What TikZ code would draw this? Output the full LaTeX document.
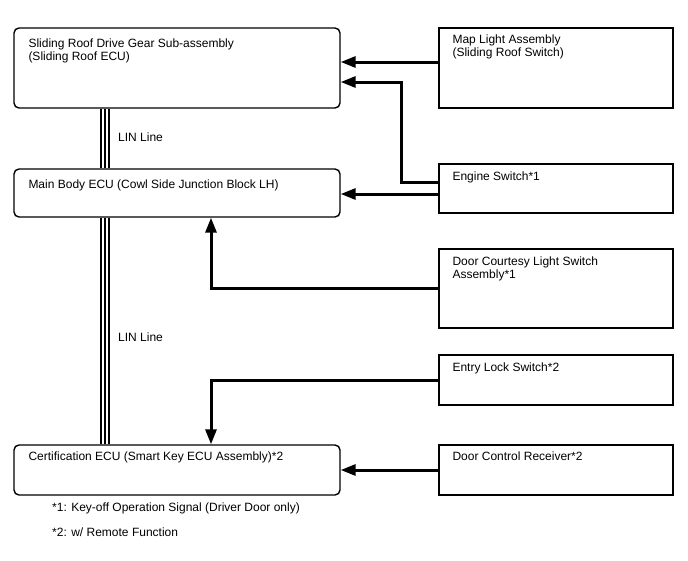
\documentclass[tikz,border=0pt]{standalone}
\usepackage{fontspec}
\setmainfont{Liberation Sans}
\usetikzlibrary{arrows.meta,positioning,calc}
\tikzset{
  sigarr/.style={-{Triangle[length=15pt, width=11pt]}, line width=3pt},
  linbus/.style={line width=1.3pt},
  ecubox/.style={draw, line width=1.4pt, rounded corners=5pt, minimum width=326pt, inner sep=0pt},
  partbox/.style={draw, line width=1.3pt, minimum width=234pt, inner sep=0pt},
}

\begin{document}
\begin{tikzpicture}[
  x=1pt, y=-1pt,
  font=\fontsize{12}{13.5}\selectfont,
  boxtext/.style={inner sep=0pt, align=left},
]
  \useasboundingbox[fill=white] (0,0) rectangle (688,560);

  % ECUs on the left
  \node[ecubox, minimum height=80pt] (roof) at (177,68)  {};
  \node[ecubox, minimum height=48pt] (body) at (177,193) {};
  \node[ecubox, minimum height=50pt] (cert) at (177,470) {};

  \node[boxtext, anchor=north west] (rooftxt) at ([shift={(15pt,-11pt)}]roof.north west) {Sliding Roof Drive Gear Sub-assembly\\(Sliding Roof ECU)};
  \node[boxtext, anchor=north west] (bodytxt) at ([shift={(15pt,-11pt)}]body.north west) {Main Body ECU (Cowl Side Junction Block LH)};
  \node[boxtext, anchor=north west] (certtxt) at ([shift={(15pt,-7pt)}]cert.north west) {Certification ECU (Smart Key ECU Assembly)*2};

  % switches on the right
  \node[partbox, minimum height=80pt] (map)      at (556,68)    {};
  \node[partbox, minimum height=49pt] (engine)   at (556,188.5) {};
  \node[partbox, minimum height=79pt] (courtesy) at (556,288.5) {};
  \node[partbox, minimum height=50pt] (entry)    at (556,380)   {};
  \node[partbox, minimum height=50pt] (receiver) at (556,470)   {};

  \node[boxtext, anchor=north west] (maptxt)      at ([shift={(14pt,-7pt)}]map.north west)      {Map Light Assembly\\(Sliding Roof Switch)};
  \node[boxtext, anchor=north west] (enginetxt)   at ([shift={(14pt,-8pt)}]engine.north west)   {Engine Switch*1};
  \node[boxtext, anchor=north west] (courtesytxt) at ([shift={(14pt,-8pt)}]courtesy.north west) {Door Courtesy Light Switch\\Assembly*1};
  \node[boxtext, anchor=north west] (entrytxt)    at ([shift={(14pt,-8pt)}]entry.north west)    {Entry Lock Switch*2};
  \node[boxtext, anchor=north west] (receivertxt) at ([shift={(14pt,-7pt)}]receiver.north west) {Door Control Receiver*2};

  % LIN bus
  \foreach \dx in {-76,-72,-68} {
    \draw[linbus] ([xshift=\dx pt]roof.south) -- ([xshift=\dx pt]body.north);
    \draw[linbus] ([xshift=\dx pt]body.south) -- ([xshift=\dx pt]cert.north);
  }
  \node[boxtext, anchor=base west] (lin1) at (118,141.7) {LIN Line};
  \node[boxtext, anchor=base west] (lin2) at (118,341.7) {LIN Line};

  % signals
  \coordinate (bend) at (401,82);
  \draw[sigarr] ([yshift=6pt]map.west) -- ([yshift=6pt]map.west -| roof.east);
  \draw[sigarr] ([yshift=6.5pt]engine.west) -| (bend) -- (bend -| roof.east);
  \draw[sigarr] ([yshift=-5.5pt]engine.west) -- ([yshift=-5.5pt]engine.west -| body.east);
  \draw[sigarr] (courtesy.west) -| ([xshift=34pt]body.south);
  \draw[sigarr] (entry.west) -| ([xshift=34pt]cert.north);
  \draw[sigarr] (receiver.west) -- (cert.east);

  \node[boxtext, anchor=base west] (fn1) at (52,511.5) {*1: Key-off Operation Signal (Driver Door only)};
  \node[boxtext, anchor=base west] (fn2) at (52,536)   {*2: w/ Remote Function};
\end{tikzpicture}
\end{document}
